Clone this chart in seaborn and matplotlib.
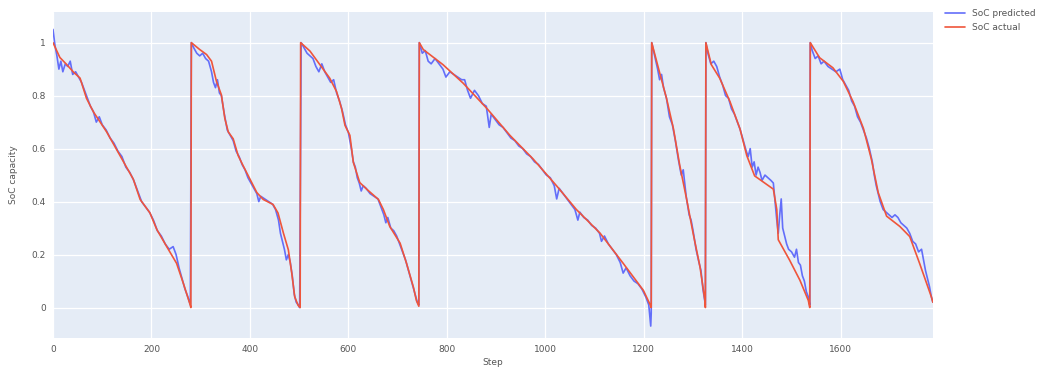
import pandas as pd
import matplotlib
matplotlib.use("Agg")
import matplotlib.pyplot as plt
import seaborn as sns

# SoC actual (red) - breakpoints, per discharge cycle
actual_steps = [0, 14, 28, 41, 55, 68, 82, 109, 136, 163, 177, 197, 211, 231, 251, 265, 278, 280,
                281, 298, 312, 322, 332, 342, 349, 356, 366, 376, 386, 400, 414, 427, 447, 457, 468,
                478, 485, 491, 498, 502,
                503, 522, 542, 562, 576, 586, 593, 603, 610, 623, 637, 661, 671, 684, 705, 718, 732,
                738, 743,
                744, 752, 792, 833, 881, 928, 975, 1023, 1063, 1111, 1158, 1199, 1212, 1215,
                1216, 1233, 1246, 1260, 1273, 1287, 1300, 1314, 1324, 1325,
                1326, 1337, 1354, 1375, 1395, 1409, 1425, 1463, 1470, 1473, 1496, 1517, 1534, 1537,
                1538, 1557, 1584, 1605, 1625, 1646, 1662, 1676, 1693, 1720, 1740, 1760, 1784, 1787]
actual_soc = [1.0, 0.944, 0.917, 0.89, 0.866, 0.79, 0.739, 0.663, 0.574, 0.485, 0.408, 0.357, 0.294,
              0.23, 0.167, 0.09, 0.014, 0.0,
              1.0, 0.974, 0.955, 0.93, 0.854, 0.803, 0.714, 0.663, 0.637, 0.574, 0.536, 0.485, 0.434,
              0.408, 0.389, 0.357, 0.281, 0.218, 0.129, 0.04, 0.008, 0.0,
              1.0, 0.968, 0.917, 0.866, 0.815, 0.752, 0.688, 0.65, 0.548, 0.472, 0.447, 0.408, 0.37,
              0.306, 0.243, 0.167, 0.077, 0.027, 0.005,
              1.0, 0.974, 0.917, 0.847, 0.752, 0.65, 0.561, 0.459, 0.37, 0.281, 0.167, 0.065, 0.014, 0.0,
              1.0, 0.88, 0.79, 0.676, 0.536, 0.408, 0.281, 0.154, 0.027, 0.0,
              1.0, 0.917, 0.866, 0.777, 0.676, 0.574, 0.497, 0.447, 0.37, 0.256, 0.179, 0.103, 0.027, 0.0,
              1.0, 0.943, 0.905, 0.854, 0.777, 0.676, 0.561, 0.434, 0.345, 0.306, 0.268, 0.167, 0.04, 0.02]

# SoC predicted (blue) - sampled along the noisy trace
pred_steps = [0, 4, 8, 12, 16, 20, 25, 30, 35, 40, 46, 52, 58, 64, 70, 76, 82, 88, 94, 100, 108, 116,
              124, 132, 140, 148, 156, 164, 172, 180, 188, 196, 204, 212, 220, 228, 236, 244, 250, 256,
              262, 268, 274, 279,
              281, 286, 292, 298, 304, 310, 316, 322, 326, 330, 334, 338, 342, 348, 354, 360, 366, 372,
              378, 384, 390, 396, 402, 408, 414, 418, 422, 430, 438, 446, 452, 458, 462, 466, 470, 474,
              478, 482, 486, 490, 494, 498, 501,
              504, 510, 516, 522, 528, 534, 540, 546, 552, 558, 564, 570, 576, 582, 588, 594, 600, 606,
              610, 614, 618, 622, 626, 630, 636, 644, 652, 660, 666, 672, 676, 680, 686, 692, 698, 704,
              710, 716, 722, 728, 734, 740, 743,
              744, 750, 756, 762, 768, 776, 784, 792, 798, 806, 814, 822, 830, 836, 842, 848, 856, 864,
              872, 880, 886, 890, 898, 906, 914, 922, 930, 938, 946, 954, 962, 970, 978, 986, 994, 1002,
              1010, 1018, 1023, 1028, 1036, 1044, 1052, 1060, 1066, 1070, 1078, 1086, 1094, 1102, 1110,
              1114, 1120, 1128, 1136, 1144, 1152, 1158, 1164, 1172, 1180, 1188, 1196, 1204, 1210, 1214, 1215,
              1216, 1222, 1228, 1232, 1236, 1240, 1246, 1252, 1258, 1264, 1270, 1276, 1280, 1286, 1292,
              1296, 1300, 1306, 1312, 1316, 1320, 1325,
              1326, 1330, 1336, 1342, 1348, 1354, 1360, 1366, 1372, 1378, 1384, 1390, 1396, 1402, 1408,
              1412, 1416, 1420, 1424, 1428, 1432, 1436, 1440, 1446, 1452, 1458, 1463, 1467, 1470, 1473,
              1476, 1479, 1482, 1486, 1490, 1494, 1500, 1506, 1510, 1514, 1518, 1522, 1526, 1530, 1534, 1537,
              1538, 1542, 1548, 1554, 1560, 1566, 1574, 1582, 1590, 1598, 1604, 1610, 1616, 1622, 1628,
              1634, 1640, 1646, 1652, 1658, 1664, 1668, 1672, 1676, 1680, 1686, 1692, 1698, 1704, 1710,
              1716, 1722, 1728, 1734, 1740, 1746, 1752, 1758, 1764, 1768, 1772, 1776, 1780, 1784, 1787]
pred_soc = [1.05, 0.99, 0.95, 0.90, 0.93, 0.89, 0.92, 0.91, 0.93, 0.88, 0.89, 0.87, 0.85, 0.82, 0.79,
            0.76, 0.74, 0.70, 0.72, 0.69, 0.67, 0.64, 0.62, 0.59, 0.57, 0.53, 0.51, 0.48, 0.44, 0.40,
            0.38, 0.36, 0.33, 0.29, 0.27, 0.24, 0.22, 0.23, 0.20, 0.15, 0.11, 0.07, 0.04, 0.01,
            1.0, 0.98, 0.96, 0.95, 0.96, 0.94, 0.93, 0.89, 0.85, 0.83, 0.86, 0.81, 0.80, 0.73, 0.67,
            0.65, 0.63, 0.59, 0.57, 0.54, 0.52, 0.49, 0.47, 0.45, 0.43, 0.40, 0.42, 0.41, 0.40, 0.39,
            0.37, 0.33, 0.28, 0.25, 0.22, 0.18, 0.20, 0.17, 0.12, 0.05, 0.02, 0.01, 0.0,
            1.0, 0.98, 0.96, 0.95, 0.94, 0.91, 0.89, 0.92, 0.89, 0.87, 0.85, 0.86, 0.81, 0.78, 0.74,
            0.69, 0.66, 0.60, 0.55, 0.53, 0.49, 0.47, 0.44, 0.46, 0.45, 0.43, 0.42, 0.41, 0.38, 0.35,
            0.32, 0.34, 0.30, 0.29, 0.27, 0.24, 0.21, 0.18, 0.14, 0.10, 0.06, 0.02, 0.01,
            1.0, 0.96, 0.97, 0.93, 0.92, 0.94, 0.92, 0.90, 0.87, 0.89, 0.88, 0.87, 0.86, 0.86, 0.82,
            0.79, 0.82, 0.80, 0.77, 0.76, 0.68, 0.73, 0.71, 0.69, 0.68, 0.66, 0.64, 0.63, 0.61, 0.60,
            0.58, 0.57, 0.55, 0.54, 0.52, 0.50, 0.49, 0.46, 0.41, 0.45, 0.43, 0.41, 0.39, 0.37, 0.33,
            0.36, 0.34, 0.33, 0.31, 0.30, 0.28, 0.25, 0.27, 0.24, 0.22, 0.20, 0.17, 0.13, 0.15, 0.12,
            0.10, 0.09, 0.07, 0.04, 0.01, -0.07, -0.02,
            1.0, 0.95, 0.90, 0.86, 0.88, 0.83, 0.79, 0.72, 0.69, 0.63, 0.56, 0.50, 0.52, 0.42, 0.35,
            0.33, 0.29, 0.22, 0.17, 0.14, 0.07, 0.01,
            1.0, 0.96, 0.92, 0.93, 0.91, 0.87, 0.84, 0.80, 0.79, 0.75, 0.73, 0.70, 0.67, 0.63, 0.59,
            0.57, 0.60, 0.53, 0.55, 0.50, 0.53, 0.51, 0.48, 0.50, 0.49, 0.48, 0.47, 0.39, 0.33, 0.28,
            0.35, 0.41, 0.30, 0.27, 0.24, 0.22, 0.21, 0.19, 0.22, 0.17, 0.16, 0.12, 0.10, 0.06, 0.04, 0.01,
            1.0, 0.97, 0.94, 0.95, 0.92, 0.93, 0.91, 0.90, 0.89, 0.90, 0.86, 0.84, 0.82, 0.78, 0.76,
            0.72, 0.70, 0.67, 0.64, 0.60, 0.55, 0.50, 0.46, 0.43, 0.40, 0.37, 0.36, 0.35, 0.34, 0.35,
            0.34, 0.32, 0.31, 0.30, 0.28, 0.25, 0.24, 0.21, 0.22, 0.18, 0.14, 0.11, 0.08, 0.04, 0.02]

x_ticks = [0, 200, 400, 600, 800, 1000, 1200, 1400, 1600]
y_ticks = [0, 0.2, 0.4, 0.6, 0.8, 1.0]
y_tick_labels = ["0", "0.2", "0.4", "0.6", "0.8", "1"]

df = pd.concat([
    pd.DataFrame({"Step": pred_steps, "SoC": pred_soc, "series": "SoC predicted"}),
    pd.DataFrame({"Step": actual_steps, "SoC": actual_soc, "series": "SoC actual"}),
], ignore_index=True)

sns.set_style("darkgrid", {"axes.facecolor": "#E5ECF6", "grid.color": "white"})
plt.rcParams['font.family'] = ['DejaVu Sans']

fig = plt.figure(figsize=(10.45, 3.69), dpi=100)
ax = fig.add_axes([0.0507, 0.084, 0.842, 0.883])

sns.lineplot(data=df, x="Step", y="SoC", hue="series", estimator=None, sort=False,
             palette={"SoC predicted": "#636EFA", "SoC actual": "#EF553B"},
             linewidth=1.2, ax=ax)

ax.set_xlim(0, 1787)
ax.set_ylim(-0.115, 1.115)
ax.set_xticks(x_ticks)
ax.set_yticks(y_ticks)
ax.set_yticklabels(y_tick_labels)
ax.tick_params(axis="both", labelsize=6.5, colors="#555555", length=0, pad=5)
ax.grid(True, color="white", linewidth=0.9)
for s in ax.spines.values():
    s.set_visible(False)
ax.set_xlabel("Step", fontsize=6.5, color="#555555", labelpad=3)
ax.set_ylabel("SoC capacity", fontsize=6.5, color="#555555", labelpad=10)

leg = ax.legend(loc="upper left", bbox_to_anchor=(1.01, 1.02), frameon=False,
                fontsize=6.5, handlelength=2.2, borderaxespad=0)
for t in leg.get_texts():
    t.set_color("#555555")
for h in leg.get_lines():
    h.set_linewidth(1.2)

fig.savefig("out.png", dpi=100)
